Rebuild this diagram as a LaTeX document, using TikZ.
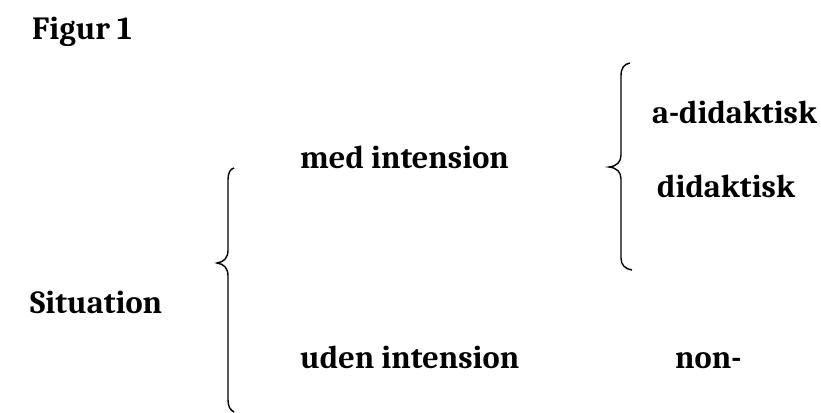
\documentclass[tikz,border=0pt]{standalone}
\usepackage{fontspec}
\setmainfont{Caladea}
\begin{document}
\begin{tikzpicture}[x=1pt,y=-1pt,
  lbl/.style={anchor=base west,inner sep=0pt,font=\fontsize{32.3}{38}\selectfont\bfseries},
  brace/.style={draw=black,line width=1.4pt}]
\useasboundingbox (0,0) rectangle (821,412);
\node[lbl] (fig) at (32,40) {Figur 1};
\node[lbl] (sit) at (30,313) {Situation};
\node[lbl] (med) at (300,168) {med intension};
\node[lbl] (uden) at (300,368) {uden intension};
\node[lbl] (non) at (675,368) {non-};
\node[lbl] (adid) at (652,123) {a-didaktisk};
\node[lbl] (did) at (657,197) {didaktisk};
\coordinate (b1top) at (234,168);
\coordinate (b1tip) at (217,263);
\coordinate (b1bot) at (234,412);
\coordinate (b2top) at (630,63);
\coordinate (b2tip) at (609,167);
\coordinate (b2bot) at (632,270);
\draw[brace] (b1top) .. controls (230,169) and (228,173) .. (228,180) -- (228,250)
  .. controls (228,258) and (224,262) .. (b1tip)
  .. controls (224,264) and (228,268) .. (228,276) -- (228,400)
  .. controls (228,406) and (230,410) .. (b1bot);
\draw[brace] (b2top) .. controls (624,64) and (621,68) .. (621,76) -- (621,155)
  .. controls (621,162) and (617,166) .. (b2tip)
  .. controls (617,168) and (621,172) .. (621,179) -- (621,258)
  .. controls (621,265) and (625,269) .. (b2bot);
\end{tikzpicture}
\end{document}
